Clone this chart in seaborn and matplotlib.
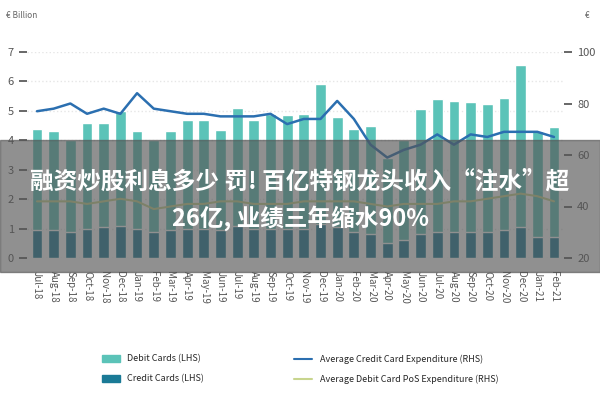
import matplotlib
matplotlib.use("Agg")
import matplotlib.pyplot as plt
import seaborn as sns
import numpy as np
import pandas as pd

months = ["Jul-18","Aug-18","Sep-18","Oct-18","Nov-18","Dec-18","Jan-19","Feb-19","Mar-19","Apr-19","May-19","Jun-19",
          "Jul-19","Aug-19","Sep-19","Oct-19","Nov-19","Dec-19","Jan-20","Feb-20","Mar-20","Apr-20","May-20","Jun-20",
          "Jul-20","Aug-20","Sep-20","Oct-20","Nov-20","Dec-20","Jan-21","Feb-21"]
debit = [4.4,4.3,4.0,4.6,4.6,5.0,4.3,4.0,4.3,4.7,4.7,4.35,5.1,4.7,4.9,4.85,4.9,5.9,4.8,4.4,4.5,3.4,4.0,5.05,5.4,5.35,5.3,5.25,5.45,6.55,4.3,4.45]
credit = [0.95,0.95,0.9,1.0,1.05,1.1,1.0,0.9,0.95,1.0,1.0,0.95,1.1,1.0,1.0,1.0,1.0,1.15,1.05,0.9,0.8,0.5,0.6,0.8,0.9,0.9,0.9,0.9,0.95,1.05,0.7,0.7]
avg_credit = [77,78,80,76,78,76,84,78,77,76,76,75,75,75,76,72,74,74,81,74,64,59,62,64,68,64,68,67,69,69,69,67]
avg_debit = [42,42,42,41,42,43,42,39,40,41,41,42,42,41,41,41,42,42,42,42,41,40,41,41,41,42,42,43,44,45,44,42]

sns.set_theme(style="white")
plt.rcParams['font.family'] = ['Noto Sans CJK SC', 'DejaVu Sans']
df = pd.DataFrame({"m": months, "debit": debit, "credit": credit, "ac": avg_credit, "ad": avg_debit})

fig = plt.figure(figsize=(6, 4), dpi=100)
ax = fig.add_axes([0.045, 0.355, 0.895, 0.515])
sns.barplot(data=df, x="m", y="debit", color="#5bc3b8", saturation=1, width=0.65, ax=ax)
sns.barplot(data=df, x="m", y="credit", color="#1a7a96", saturation=1, width=0.65, ax=ax)
ax.set_ylim(0, 7)
ax.set_yticks(range(0, 8))
ax.yaxis.grid(True, color="#e6e6e6", linestyle=":")
ax.set_xlabel(""); ax.set_ylabel("")
ax.tick_params(axis="x", rotation=-90, labelsize=7, colors="#555")
ax.tick_params(axis="y", labelsize=8, colors="#555")
for s in ax.spines.values():
    s.set_visible(False)
ax2 = ax.twinx()
x = np.arange(len(months))
ax2.plot(x, avg_credit, color="#2b6fb0", lw=1.8)
ax2.plot(x, avg_debit, color="#c8d58e", lw=1.5)
ax2.set_ylim(20, 100)
ax2.set_yticks([20, 40, 60, 80, 100])
ax2.tick_params(axis="y", labelsize=8, colors="#555")
for s in ax2.spines.values():
    s.set_visible(False)
ax.set_xlim(-0.6, len(months) - 0.4)
fig.text(0.01, 0.955, "€ Billion", fontsize=6, color="#666")
fig.text(0.975, 0.955, "€", fontsize=6, color="#666")

from matplotlib.patches import Patch
from matplotlib.lines import Line2D
handles = [Patch(color="#5bc3b8", label="Debit Cards (LHS)"),
           Patch(color="#1a7a96", label="Credit Cards (LHS)"),
           Line2D([], [], color="#2b6fb0", label="Average Credit Card Expenditure (RHS)"),
           Line2D([], [], color="#c8d58e", label="Average Debit Card PoS Expenditure (RHS)")]
fig.legend(handles=handles, loc="lower center", ncol=2, fontsize=6.5, frameon=False,
           bbox_to_anchor=(0.5, 0.02), columnspacing=10, labelspacing=1.2)

fig.patches.append(plt.Rectangle((0, 0.32), 1, 0.33, transform=fig.transFigure,
                                 color="#555", alpha=0.65, zorder=10))
fig.text(0.5, 0.545, "融资炒股利息多少 罚! 百亿特钢龙头收入“注水”超", ha="center", va="center",
         fontsize=17, color="white", weight="bold", zorder=11)
fig.text(0.5, 0.455, "26亿, 业绩三年缩水90%", ha="center", va="center",
         fontsize=17, color="white", weight="bold", zorder=11)
fig.savefig("out.png", dpi=100)
